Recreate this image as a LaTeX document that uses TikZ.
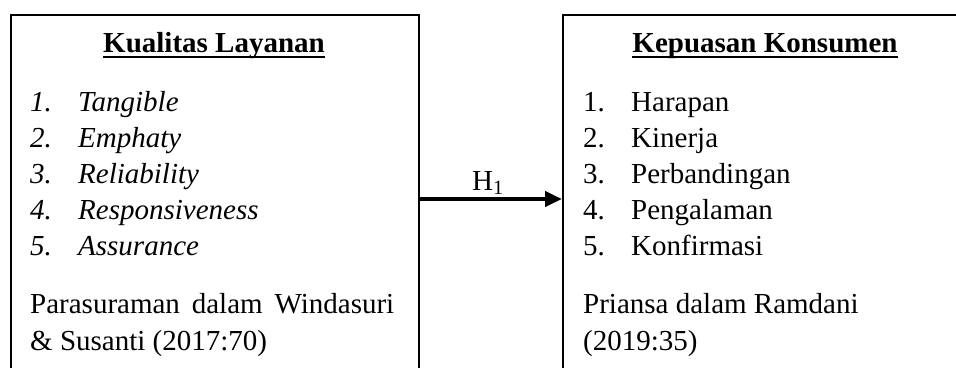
\documentclass[tikz,border=0pt]{standalone}
\usepackage{fontspec}
\setmainfont{Liberation Serif}
\usetikzlibrary{arrows.meta}
\newcommand{\myul}[1]{\setbox0\hbox{#1}\rlap{\rule[-6pt]{\wd0}{2pt}}\box0}
\begin{document}
\begin{tikzpicture}[x=1pt,y=-1pt,
  box/.style={draw, line width=2pt, minimum width=408pt, minimum height=400pt, anchor=north west, inner sep=0pt},
  txt/.style={anchor=base west, inner sep=0pt, font=\fontsize{29}{36}\selectfont},
  ttl/.style={anchor=base, inner sep=0pt, font=\fontsize{29}{36}\selectfont\bfseries},
  arr/.style={line width=4pt, -{Triangle[length=17pt,width=15pt]}}]
\useasboundingbox (0,0) rectangle (956,367);
\begin{scope}
\clip (0,0) rectangle (956,367);
\node[box] (kl) at (10,14) {};
\node[box] (kk) at (562,14) {};
\end{scope}
\node[ttl] (klt) at (214,52) {\myul{Kualitas Layanan}};
\node[ttl] (kkt) at (765,52) {\myul{Kepuasan Konsumen}};
\foreach \t [count=\i] in {Tangible, Emphaty, Reliability, Responsiveness, Assurance}{
  \node[txt] (ln\i) at (30,{111+36*(\i-1)}) {\itshape\i.};
  \node[txt] (lt\i) at (78,{111+36*(\i-1)}) {\itshape\t};
}
\foreach \t [count=\i] in {Harapan, Kinerja, Perbandingan, Pengalaman, Konfirmasi}{
  \node[txt] (rn\i) at (583,{111+36*(\i-1)}) {\i.};
  \node[txt] (rt\i) at (631,{111+36*(\i-1)}) {\t};
}
\node[txt] (lc1) at (30,313) {\makebox[364pt][s]{Parasuraman dalam Windasuri}};
\node[txt] (lc2) at (30,350) {\& Susanti (2017:70)};
\node[txt] (rc1) at (583,313) {Priansa dalam Ramdani};
\node[txt] (rc2) at (583,350) {(2019:35)};
\node[txt] (h1) at (472,190) {H\textsubscript{1}};
\coordinate (h) at (490,199);
\draw[arr] (kl.east |- h) -- (kk.west |- h);
\end{tikzpicture}
\end{document}
